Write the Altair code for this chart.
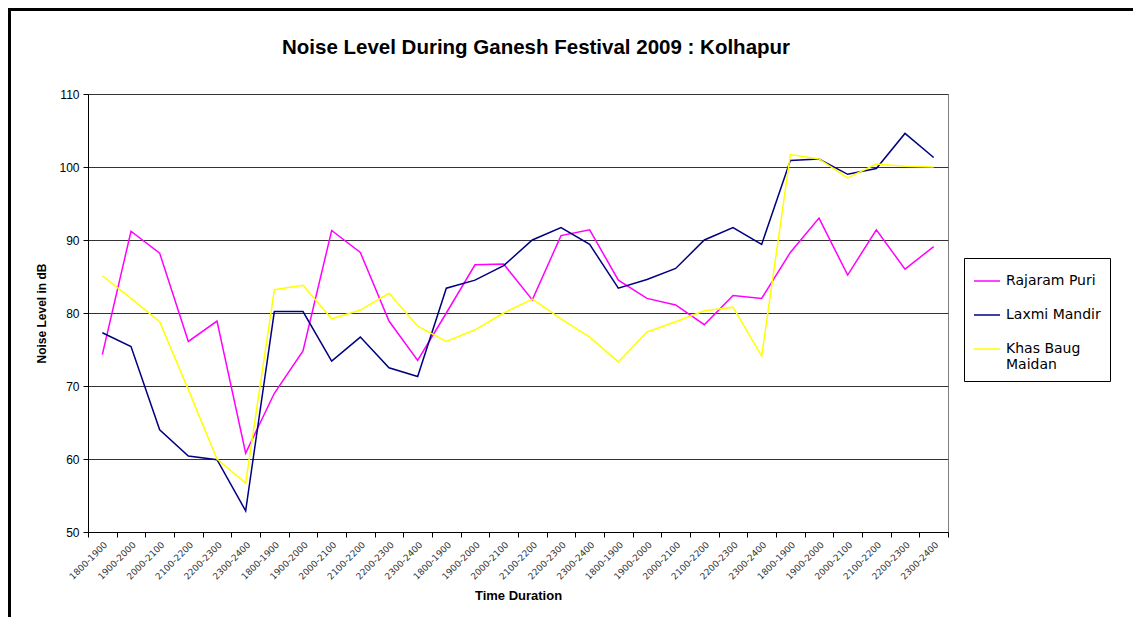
import altair as alt
import pandas as pd

title_text = "Noise Level During Ganesh Festival 2009 : Kolhapur"

time_labels = [
    "1800-1900", "1900-2000", "2000-2100", "2100-2200", "2200-2300", "2300-2400",
    "1800-1900", "1900-2000", "2000-2100", "2100-2200", "2200-2300", "2300-2400",
    "1800-1900", "1900-2000", "2000-2100", "2100-2200", "2200-2300", "2300-2400",
    "1800-1900", "1900-2000", "2000-2100", "2100-2200", "2200-2300", "2300-2400",
    "1800-1900", "1900-2000", "2000-2100", "2100-2200", "2200-2300", "2300-2400",
]

series_names = ["Rajaram Puri", "Laxmi Mandir", "Khas Baug Maidan"]
series_colors = ["#FF00FF", "#000080", "#FFFF00"]

rajaram_puri = [
    74.3, 91.2, 88.2, 76.1, 78.9, 60.8,
    69.0, 74.8, 91.3, 88.3, 78.9, 73.5,
    80.0, 86.6, 86.7, 81.8, 90.6, 91.4,
    84.5, 82.0, 81.1, 78.4, 82.4, 82.0,
    88.3, 93.0, 85.2, 91.4, 86.0, 89.1,
]
laxmi_mandir = [
    77.3, 75.4, 64.0, 60.4, 59.9, 52.9,
    80.2, 80.2, 73.4, 76.7, 72.5, 71.3,
    83.4, 84.5, 86.5, 90.0, 91.7, 89.4,
    83.4, 84.6, 86.1, 90.0, 91.7, 89.4,
    100.9, 101.1, 99.0, 99.8, 104.6, 101.3,
]
khas_baug_maidan = [
    85.1, 82.0, 78.8, 69.5, 60.0, 56.7,
    83.2, 83.8, 79.2, 80.4, 82.7, 78.2,
    76.1, 77.7, 80.0, 81.9, 79.2, 76.7,
    73.3, 77.4, 78.8, 80.3, 80.8, 74.1,
    101.7, 101.1, 98.5, 100.4, 100.1, 100.0,
]

y_ticks = [50, 60, 70, 80, 90, 100, 110]

rows = []
for name, vals in zip(series_names, [rajaram_puri, laxmi_mandir, khas_baug_maidan]):
    for i, (lab, v) in enumerate(zip(time_labels, vals)):
        rows.append({"key": f"{i:02d}|{lab}", "series": name, "value": v, "order": i})
df = pd.DataFrame(rows)
keys = [f"{i:02d}|{lab}" for i, lab in enumerate(time_labels)]

W, H = 860, 438

lines = alt.Chart(df).mark_line(strokeWidth=1.5, clip=False).encode(
    x=alt.X(
        "key:O",
        sort=keys,
        scale=alt.Scale(domain=keys, paddingInner=0, paddingOuter=0),
        axis=alt.Axis(
            title="Time Duration",
            labelExpr="split(datum.label, '|')[1]",
            labelAngle=-45,
            labelFont="DejaVu Sans",
            labelFontSize=9,
            labelColor="#333333",
            labelPadding=3,
            tickBand="extent",
            tickSize=5,
            tickColor="#000000",
            domainColor="#000000",
            titleFont="Liberation Sans",
            titleFontSize=13,
            titleFontWeight="bold",
            titleColor="#000000",
            titlePadding=8,
            grid=False,
        ),
    ),
    y=alt.Y(
        "value:Q",
        scale=alt.Scale(domain=[50, 110], nice=False, zero=False),
        axis=alt.Axis(
            title="Noise Level in dB",
            values=y_ticks,
            labelFont="Liberation Sans",
            labelFontSize=12,
            labelColor="#000000",
            labelPadding=4,
            tickSize=5,
            tickColor="#000000",
            domainColor="#000000",
            titleFont="Liberation Sans",
            titleFontSize=12,
            titleFontWeight="bold",
            titleColor="#000000",
            titlePadding=10,
            grid=True,
            gridColor="#333333",
            gridWidth=1,
        ),
    ),
    color=alt.Color(
        "series:N",
        sort=series_names,
        scale=alt.Scale(domain=series_names, range=series_colors),
        legend=alt.Legend(
            title=None,
            orient="none",
            legendX=876,
            legendY=164,
            symbolType="stroke",
            symbolSize=676,
            symbolStrokeWidth=1.5,
            labelFont="DejaVu Sans",
            labelFontSize=14,
            labelColor="#000000",
            labelOffset=5,
            labelLimit=220,
            labelExpr="datum.label == 'Khas Baug Maidan' ? ['Khas Baug', 'Maidan'] : datum.label",
            rowPadding=13,
            padding=9,
            strokeColor="#000000",
            fillColor="#FFFFFF",
        ),
    ),
    order="order:Q",
)

frame_top = alt.Chart(df).mark_rule(color="#000000", strokeWidth=3, clip=False).encode(
    x=alt.value(-80), x2=alt.value(W + 190), y=alt.value(-85)
)
frame_left = alt.Chart(df).mark_rule(color="#000000", strokeWidth=3, clip=False).encode(
    x=alt.value(-79), y=alt.value(-85), y2=alt.value(H + 90)
)

chart = alt.layer(lines, frame_top, frame_left).properties(
    width=W,
    height=H,
    title=alt.TitleParams(
        title_text,
        font="Liberation Sans",
        fontSize=20.5,
        fontWeight="bold",
        color="#000000",
        anchor="middle",
        frame="group",
        dx=18,
        offset=-51,
    ),
    autosize=alt.AutoSizeParams(type="none"),
    padding={"left": 80, "top": 86, "right": 185, "bottom": 85},
    background="#FFFFFF",
).configure_view(
    stroke="#808080", strokeWidth=1
)

chart.save("out.html", embed_options={"renderer": "svg", "actions": False})
